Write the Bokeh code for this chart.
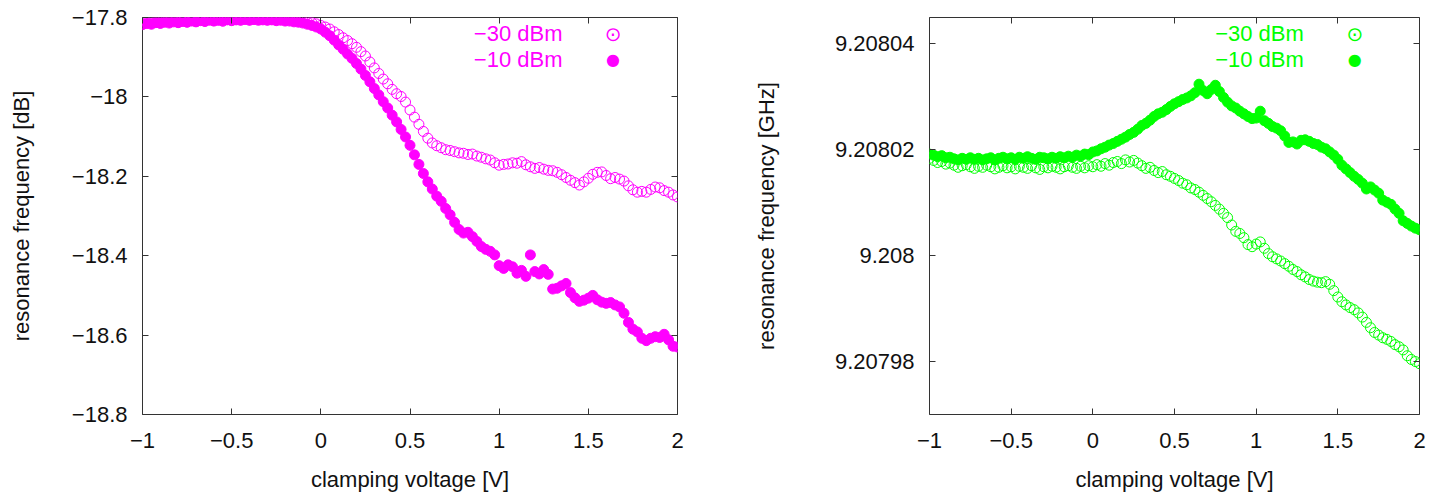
from bokeh.plotting import figure
from bokeh.layouts import row
from bokeh.models import Range1d, FixedTicker, LinearAxis, Label, CustomJSTickFormatter
from bokeh.embed import file_html
from bokeh.resources import INLINE

# ---------------- data ----------------
voltage = [
    -1.0, -0.975, -0.95, -0.925, -0.9, -0.875, -0.85, -0.825, -0.8, -0.775,
    -0.75, -0.725, -0.7, -0.675, -0.65, -0.625, -0.6, -0.575, -0.55, -0.525,
    -0.5, -0.475, -0.45, -0.425, -0.4, -0.375, -0.35, -0.325, -0.3, -0.275,
    -0.25, -0.225, -0.2, -0.175, -0.15, -0.125, -0.1, -0.075, -0.05, -0.025,
    0.0, 0.025, 0.05, 0.075, 0.1, 0.125, 0.15, 0.175, 0.2, 0.225,
    0.25, 0.275, 0.3, 0.325, 0.35, 0.375, 0.4, 0.425, 0.45, 0.475,
    0.5, 0.525, 0.55, 0.575, 0.6, 0.625, 0.65, 0.675, 0.7, 0.725,
    0.75, 0.775, 0.8, 0.825, 0.85, 0.875, 0.9, 0.925, 0.95, 0.975,
    1.0, 1.025, 1.05, 1.075, 1.1, 1.125, 1.15, 1.175, 1.2, 1.225,
    1.25, 1.275, 1.3, 1.325, 1.35, 1.375, 1.4, 1.425, 1.45, 1.475,
    1.5, 1.525, 1.55, 1.575, 1.6, 1.625, 1.65, 1.675, 1.7, 1.725,
    1.75, 1.775, 1.8, 1.825, 1.85, 1.875, 1.9, 1.925, 1.95, 1.975,
    2.0,
]

# left panel, -30 dBm (open circles) [dB]
left_m30 = [
    -17.816, -17.812, -17.814, -17.810, -17.813, -17.809, -17.811, -17.808, -17.812, -17.809,
    -17.811, -17.807, -17.810, -17.806, -17.809, -17.803, -17.808, -17.806, -17.809, -17.805,
    -17.807, -17.804, -17.806, -17.803, -17.806, -17.804, -17.805, -17.803, -17.806, -17.804,
    -17.806, -17.805, -17.807, -17.805, -17.808, -17.807, -17.809, -17.811, -17.813, -17.816,
    -17.820, -17.824, -17.829, -17.836, -17.843, -17.851, -17.858, -17.866, -17.875, -17.886,
    -17.897, -17.912, -17.927, -17.941, -17.955, -17.967, -17.981, -17.992, -17.999, -18.013,
    -18.033, -18.051, -18.069, -18.087, -18.104, -18.116, -18.123, -18.128, -18.133, -18.135,
    -18.138, -18.141, -18.142, -18.145, -18.144, -18.149, -18.152, -18.156, -18.159, -18.166,
    -18.172, -18.170, -18.169, -18.166, -18.167, -18.163, -18.171, -18.176, -18.180, -18.178,
    -18.182, -18.185, -18.186, -18.190, -18.196, -18.203, -18.210, -18.216, -18.222, -18.214,
    -18.205, -18.195, -18.190, -18.189, -18.198, -18.206, -18.203, -18.207, -18.212, -18.224,
    -18.234, -18.240, -18.238, -18.240, -18.233, -18.227, -18.229, -18.236, -18.240, -18.247,
    -18.252,
]

# left panel, -10 dBm (filled circles) [dB]
left_m10 = [
    -17.818, -17.815, -17.817, -17.813, -17.815, -17.812, -17.814, -17.811, -17.813, -17.810,
    -17.812, -17.809, -17.811, -17.808, -17.810, -17.807, -17.809, -17.807, -17.809, -17.806,
    -17.808, -17.806, -17.807, -17.805, -17.807, -17.805, -17.807, -17.806, -17.807, -17.806,
    -17.808, -17.807, -17.809, -17.809, -17.811, -17.812, -17.814, -17.817, -17.820, -17.824,
    -17.829, -17.837, -17.846, -17.857, -17.869, -17.880, -17.892, -17.903, -17.916, -17.930,
    -17.946, -17.962, -17.979, -17.995, -18.012, -18.028, -18.046, -18.063, -18.082, -18.101,
    -18.122, -18.146, -18.170, -18.193, -18.214, -18.232, -18.250, -18.263, -18.281, -18.297,
    -18.316, -18.334, -18.343, -18.341, -18.352, -18.364, -18.377, -18.384, -18.389, -18.398,
    -18.425, -18.432, -18.423, -18.428, -18.444, -18.437, -18.452, -18.398, -18.440, -18.446,
    -18.435, -18.447, -18.484, -18.482, -18.476, -18.470, -18.493, -18.506, -18.515, -18.512,
    -18.507, -18.500, -18.511, -18.517, -18.520, -18.518, -18.524, -18.529, -18.545, -18.568,
    -18.585, -18.592, -18.608, -18.614, -18.608, -18.604, -18.606, -18.598, -18.612, -18.628,
    -18.630,
]

# right panel, -30 dBm (open circles) [GHz]
right_m30 = [
    9.2080184, 9.2080180, 9.2080176, 9.2080178, 9.2080173, 9.2080175, 9.2080171, 9.2080167, 9.2080170, 9.2080172,
    9.2080168, 9.2080165, 9.2080169, 9.2080167, 9.2080171, 9.2080168, 9.2080164, 9.2080167, 9.2080170, 9.2080166,
    9.2080168, 9.2080164, 9.2080169, 9.2080167, 9.2080165, 9.2080170, 9.2080166, 9.2080163, 9.2080168, 9.2080166,
    9.2080169, 9.2080167, 9.2080164, 9.2080168, 9.2080170, 9.2080167, 9.2080165, 9.2080169, 9.2080166, 9.2080170,
    9.2080168, 9.2080172, 9.2080169, 9.2080174, 9.2080171, 9.2080176, 9.2080178, 9.2080174, 9.2080181, 9.2080177,
    9.2080180, 9.2080175, 9.2080170, 9.2080165, 9.2080167, 9.2080161, 9.2080157, 9.2080159, 9.2080153, 9.2080150,
    9.2080146, 9.2080142, 9.2080137, 9.2080134, 9.2080128, 9.2080125, 9.2080120, 9.2080114, 9.2080108, 9.2080102,
    9.2080095, 9.2080088, 9.2080080, 9.2080072, 9.2080058, 9.2080046, 9.2080042, 9.2080034, 9.2080021, 9.2080017,
    9.2080022, 9.2080026, 9.2080014, 9.2080004, 9.2079998, 9.2079994, 9.2079990, 9.2079985, 9.2079980, 9.2079974,
    9.2079970, 9.2079964, 9.2079960, 9.2079955, 9.2079952, 9.2079950, 9.2079949, 9.2079951, 9.2079946, 9.2079934,
    9.2079922, 9.2079913, 9.2079907, 9.2079902, 9.2079898, 9.2079892, 9.2079884, 9.2079874, 9.2079864, 9.2079855,
    9.2079850, 9.2079845, 9.2079842, 9.2079838, 9.2079832, 9.2079828, 9.2079822, 9.2079811, 9.2079804, 9.2079800,
    9.2079796,
]

# right panel, -10 dBm (filled circles) [GHz]
right_m10 = [
    9.2080192, 9.2080190, 9.2080187, 9.2080189, 9.2080185, 9.2080186, 9.2080183, 9.2080181, 9.2080184, 9.2080182,
    9.2080185, 9.2080182, 9.2080184, 9.2080181, 9.2080183, 9.2080185, 9.2080181, 9.2080184, 9.2080186, 9.2080183,
    9.2080185, 9.2080182, 9.2080186, 9.2080184, 9.2080187, 9.2080184, 9.2080182, 9.2080186, 9.2080185, 9.2080183,
    9.2080186, 9.2080184, 9.2080187, 9.2080185, 9.2080188, 9.2080186, 9.2080190, 9.2080188, 9.2080192, 9.2080191,
    9.2080196, 9.2080198, 9.2080202, 9.2080205, 9.2080209, 9.2080212, 9.2080216, 9.2080220, 9.2080224, 9.2080229,
    9.2080233, 9.2080239, 9.2080246, 9.2080250, 9.2080256, 9.2080263, 9.2080268, 9.2080271, 9.2080276, 9.2080282,
    9.2080287, 9.2080291, 9.2080295, 9.2080298, 9.2080302, 9.2080308, 9.2080324, 9.2080312, 9.2080306, 9.2080314,
    9.2080322, 9.2080310, 9.2080299, 9.2080290, 9.2080283, 9.2080279, 9.2080273, 9.2080268, 9.2080263, 9.2080259,
    9.2080260, 9.2080273, 9.2080255, 9.2080250, 9.2080244, 9.2080241, 9.2080236, 9.2080226, 9.2080214, 9.2080215,
    9.2080211, 9.2080218, 9.2080219, 9.2080216, 9.2080212, 9.2080210, 9.2080205, 9.2080202, 9.2080196, 9.2080190,
    9.2080182, 9.2080171, 9.2080164, 9.2080157, 9.2080150, 9.2080144, 9.2080137, 9.2080126, 9.2080130, 9.2080124,
    9.2080118, 9.2080105, 9.2080101, 9.2080097, 9.2080088, 9.2080080, 9.2080066, 9.2080061, 9.2080056, 9.2080052,
    9.2080049,
]

series_labels = ["\u221230 dBm", "\u221210 dBm"]

x_ticks = [-1.0, -0.5, 0.0, 0.5, 1.0, 1.5, 2.0]
x_tick_labels = ["\u22121", "\u22120.5", "0", "0.5", "1", "1.5", "2"]
left_y_ticks = [-18.8, -18.6, -18.4, -18.2, -18.0, -17.8]
left_y_tick_labels = ["\u221218.8", "\u221218.6", "\u221218.4", "\u221218.2", "\u221218", "\u221217.8"]
right_y_ticks = [9.20798, 9.208, 9.20802, 9.20804]
right_y_tick_labels = ["9.20798", "9.208", "9.20802", "9.20804"]

x_label = "clamping voltage [V]"
left_y_label = "resonance frequency [dB]"
right_y_label = "resonance frequency [GHz]"

MAGENTA = "#ff00ff"
GREEN = "#00ff00"
FONT = "Liberation Sans"
FS = "22px"


def style_axis(ax, ticks, labels, show_labels, standoff):
    ax.ticker = FixedTicker(ticks=ticks, minor_ticks=[])
    ax.major_tick_in = 6
    ax.major_tick_out = 0
    ax.minor_tick_line_color = None
    ax.major_tick_line_color = "#333333"
    ax.major_tick_line_width = 1
    ax.axis_line_color = None
    if show_labels:
        ax.major_label_overrides = {t: l for t, l in zip(ticks, labels)}
        ax.major_label_text_font = FONT
        ax.major_label_text_font_size = FS
        ax.major_label_text_color = "#111111"
        ax.major_label_standoff = standoff
    else:
        ax.formatter = CustomJSTickFormatter(code="return ''")
        ax.major_label_text_font_size = "1px"
        ax.major_label_standoff = 0


def make_panel(width, mb_left, mb_right, mb_top, xr, yr, y_ticks, y_tick_labels,
               y_label, y_label_standoff, ys30, ys10, color, text_x, mark_x):
    p = figure(width=width, height=494, output_backend="svg", toolbar_location=None,
               x_range=Range1d(*xr), y_range=Range1d(*yr),
               min_border_left=mb_left, min_border_right=mb_right,
               min_border_top=mb_top, min_border_bottom=78,
               x_axis_location=None, y_axis_location=None)
    p.grid.visible = False
    p.outline_line_color = "#333333"
    p.outline_line_width = 1
    p.background_fill_color = "white"
    p.border_fill_color = "white"

    xb = LinearAxis(axis_label=x_label)
    style_axis(xb, x_ticks, x_tick_labels, True, 18)
    xb.axis_label_text_font = FONT
    xb.axis_label_text_font_size = FS
    xb.axis_label_text_font_style = "normal"
    xb.axis_label_text_color = "#111111"
    xb.axis_label_standoff = 16
    p.add_layout(xb, "below")

    xt = LinearAxis()
    style_axis(xt, x_ticks, x_tick_labels, False, 0)
    p.add_layout(xt, "above")

    yl = LinearAxis(axis_label=y_label)
    style_axis(yl, y_ticks, y_tick_labels, True, 15)
    yl.axis_label_text_font = FONT
    yl.axis_label_text_font_size = FS
    yl.axis_label_text_font_style = "normal"
    yl.axis_label_text_color = "#111111"
    yl.axis_label_standoff = y_label_standoff
    p.add_layout(yl, "left")

    yr_ax = LinearAxis()
    style_axis(yr_ax, y_ticks, y_tick_labels, False, 0)
    p.add_layout(yr_ax, "right")

    p.scatter(voltage, ys10, marker="circle", size=10, fill_color=color,
              line_color=color, line_width=1)
    p.scatter(voltage, ys30, marker="circle", size=10, fill_color=None,
              line_color=color, line_width=1)

    # legend (label text right-aligned, sample marker to the right)
    rows_y = [380.7, 354.7]
    for lab, sy in zip(series_labels, rows_y):
        p.add_layout(Label(x=text_x, y=sy, x_units="screen", y_units="screen",
                           text=lab, text_align="right", text_baseline="middle",
                           text_font=FONT, text_font_size=FS, text_color=color))
    p.add_layout(Label(x=mark_x, y=rows_y[0], x_units="screen", y_units="screen",
                       text="\u2299", text_align="center", text_baseline="middle",
                       text_font="DejaVu Sans", text_font_size="20px", text_color=color))
    p.add_layout(Label(x=mark_x, y=rows_y[1], x_units="screen", y_units="screen",
                       text="\u25cf", text_align="center", text_baseline="middle",
                       text_font="DejaVu Sans", text_font_size="16px", text_color=color))
    return p


p1 = make_panel(745, 142, 68, 16, (-1, 2), (-18.8, -17.8), left_y_ticks, left_y_tick_labels,
                left_y_label, 35, left_m30, left_m10, MAGENTA, 420, 470.6)
p2 = make_panel(685, 184, 11, 17, (-1, 2), (9.20797, 9.208045), right_y_ticks, right_y_tick_labels,
                right_y_label, 53, right_m30, right_m10, GREEN, 374.3, 425.3)

layout = row(p1, p2)
open("out.html", "w").write(file_html(layout, INLINE))
